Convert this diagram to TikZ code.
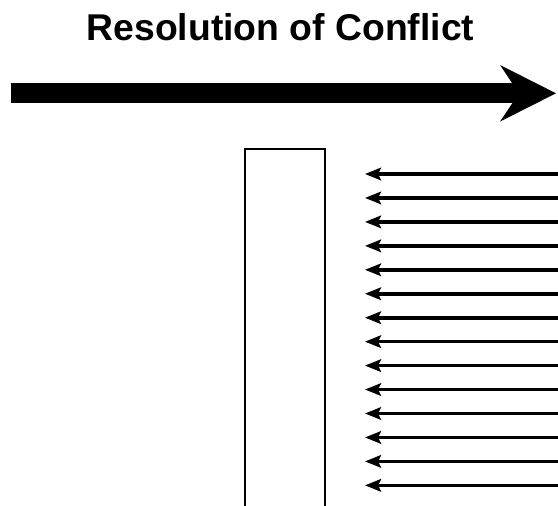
\documentclass[tikz,border=0pt]{standalone}
\usepackage{fontspec}
\setmainfont{Liberation Sans}
\usetikzlibrary{arrows.meta}
\begin{document}
\begin{tikzpicture}[x=1pt,y=-1pt,
  title/.style={font=\fontsize{37.3}{42}\selectfont\bfseries, anchor=base, inner sep=0pt},
  wall/.style={draw=black, line width=2pt},
  push/.style={line width=3.6pt, -{Stealth[length=16pt,width=12.5pt,inset=3pt]}},
  bigshaft/.style={line width=20pt},
  bighead/.style={fill=black}]
  \useasboundingbox (0,0) rectangle (558,506);
  % title
  \node[title] (heading) at (280.5,40) {Resolution of Conflict};
  % big arrow to the right
  \coordinate (shaftL) at (11,93.3);
  \coordinate (shaftR) at (522,93.3);
  \draw[bigshaft] (shaftL) -- (shaftR);
  \coordinate (hT) at (500,65);
  \coordinate (hTip) at (556,93.3);
  \coordinate (hB) at (500,121.6);
  \coordinate (hN) at (519,93.3);
  \fill[bighead] (hT) -- (hTip) -- (hB) -- (hN) -- cycle;
  % open-ended wall
  \coordinate (wBL) at (245,506);
  \coordinate (wTL) at (245,149);
  \coordinate (wTR) at (325,149);
  \coordinate (wBR) at (325,506);
  \draw[wall] (wBL) -- (wTL) -- (wTR) -- (wBR);
  % pushing arrows
  \foreach \k in {0,...,13}{
    \coordinate (s\k) at (558,174+23.95*\k);
    \coordinate (e\k) at (365,174+23.95*\k);
    \draw[push] (s\k) -- (e\k);
  }
\end{tikzpicture}
\end{document}
